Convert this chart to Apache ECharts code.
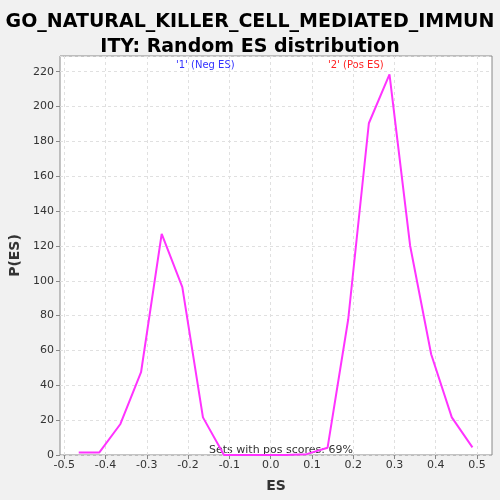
<!DOCTYPE html>
<html>
<head>
<meta charset="utf-8">
<script src="https://cdn.jsdelivr.net/npm/echarts@6/dist/echarts.min.js"></script>
<style>
  html, body { margin: 0; padding: 0; background: #f1f1f1; }
  #chart { width: 500px; height: 500px; }
</style>
</head>
<body>
<div id="chart"></div>
<script>
// ES bins and random ES density
const esValues = [-0.465, -0.415, -0.364, -0.314, -0.264, -0.214, -0.164, -0.113, -0.063, -0.013,
                  0.037, 0.087, 0.138, 0.188, 0.238, 0.288, 0.338, 0.389, 0.439, 0.489];
const pValues = [1.5, 1.5, 17.8, 47.5, 126.9, 96.4, 21.6, 0, 0, 0,
                 0, 0.5, 4.2, 77.9, 190.4, 218.5, 120.1, 57.8, 21.6, 4.4];
const xTicks = [-0.5, -0.4, -0.3, -0.2, -0.1, 0.0, 0.1, 0.2, 0.3, 0.4, 0.5];

const chart = echarts.init(document.getElementById('chart'), null, { renderer: 'canvas' });
const font = 'DejaVu Sans';

chart.setOption({
  backgroundColor: '#f1f1f1',
  animation: false,
  textStyle: { fontFamily: font },
  title: {
    text: 'GO_NATURAL_KILLER_CELL_MEDIATED_IMMUN\nITY: Random ES distribution',
    left: 'center', top: 5,
    textStyle: { fontFamily: font, fontSize: 19, fontWeight: 'bold', color: '#000', lineHeight: 25 },
  },
  grid: { left: 60, right: 8, top: 56, bottom: 45, show: true, backgroundColor: '#fff', borderColor: '#888', borderWidth: 1 },
  xAxis: {
    type: 'value', min: -0.5104, max: 0.5364,
    name: 'ES', nameLocation: 'middle', nameGap: 24,
    nameTextStyle: { fontFamily: font, fontSize: 14, fontWeight: 'bold', color: '#333' },
    axisLine: { show: false, onZero: false },
    axisTick: { show: true, customValues: xTicks, length: 4, lineStyle: { color: '#888' } },
    axisLabel: { customValues: xTicks, formatter: v => v.toFixed(1), color: '#333', fontSize: 11, margin: 5 },
    splitLine: { show: true, lineStyle: { color: '#e0e0e0', type: [3, 3] } },
  },
  yAxis: {
    type: 'value', min: 0, max: 229, interval: 20,
    name: 'P(ES)', nameLocation: 'middle', nameGap: 32,
    nameTextStyle: { fontFamily: font, fontSize: 14, fontWeight: 'bold', color: '#333' },
    axisLine: { show: false, onZero: false },
    axisTick: { show: true, length: 4, lineStyle: { color: '#888' } },
    axisLabel: { color: '#333', fontSize: 11, margin: 6, showMaxLabel: false },
    splitLine: { show: true, lineStyle: { color: '#e0e0e0', type: [3, 3] } },
  },
  graphic: [
    { type: 'text', left: 176, top: 60, style: { text: "'1' (Neg ES)", fill: '#3333ff', font: '10px ' + font } },
    { type: 'text', left: 328, top: 60, style: { text: "'2' (Pos ES)", fill: '#ff2222', font: '10px ' + font } },
    { type: 'text', left: 209, top: 445, style: { text: 'Sets with pos scores: 69%', fill: '#333', font: '11px ' + font } },
  ],
  series: [{
    type: 'line',
    data: esValues.map((x, i) => [x, pValues[i]]),
    symbol: 'none',
    lineStyle: { color: '#ff33ff', width: 2 },
  }],
});
</script>
</body>
</html>
